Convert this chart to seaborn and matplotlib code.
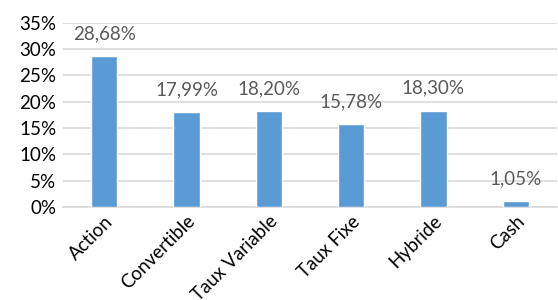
import matplotlib
matplotlib.use("Agg")
import matplotlib.pyplot as plt
import seaborn as sns
import pandas as pd

categories = ["Action", "Convertible", "Taux Variable", "Taux Fixe", "Hybride", "Cash"]
values = [28.68, 17.99, 18.20, 15.78, 18.30, 1.05]
yticks = [0, 5, 10, 15, 20, 25, 30, 35]

sns.set_theme(style="white")
plt.rcParams["font.family"] = ["Lato", "DejaVu Sans"]

df = pd.DataFrame({"cat": categories, "val": values})

fig = plt.figure(figsize=(5.58, 3.0), dpi=100)
ax = fig.add_axes([0.113, 0.31, 0.885, 0.614])
sns.barplot(data=df, x="cat", y="val", color="#5b9bd5", saturation=1, width=0.32, ax=ax, zorder=3)

ax.set_ylim(0, 35)
ax.set_yticks(yticks)
ax.set_yticklabels([f"{t}%" for t in yticks], fontsize=13.5, color="#000000")
ax.yaxis.grid(True, color="#d9d9d9", linewidth=1.2, zorder=0)
ax.set_axisbelow(True)
for s in ["top", "right", "left"]:
    ax.spines[s].set_visible(False)
ax.spines["bottom"].set_color("#d9d9d9")
ax.spines["bottom"].set_linewidth(1.2)
ax.tick_params(axis="y", length=0, pad=5)
ax.tick_params(axis="x", length=0, pad=4)
ax.set_xlabel("")
ax.set_ylabel("")
ax.set_xticks(range(len(categories)))
ax.set_xticklabels(categories, rotation=45, ha="right", rotation_mode="anchor", fontsize=13.5, color="#000000")

for i, v in enumerate(values):
    ax.annotate(f"{v:.2f}%".replace(".", ","), (i, v), xytext=(0, 10), textcoords="offset points",
                ha="center", va="bottom", fontsize=13.5, color="#595959")

fig.savefig("out.png", dpi=100)
